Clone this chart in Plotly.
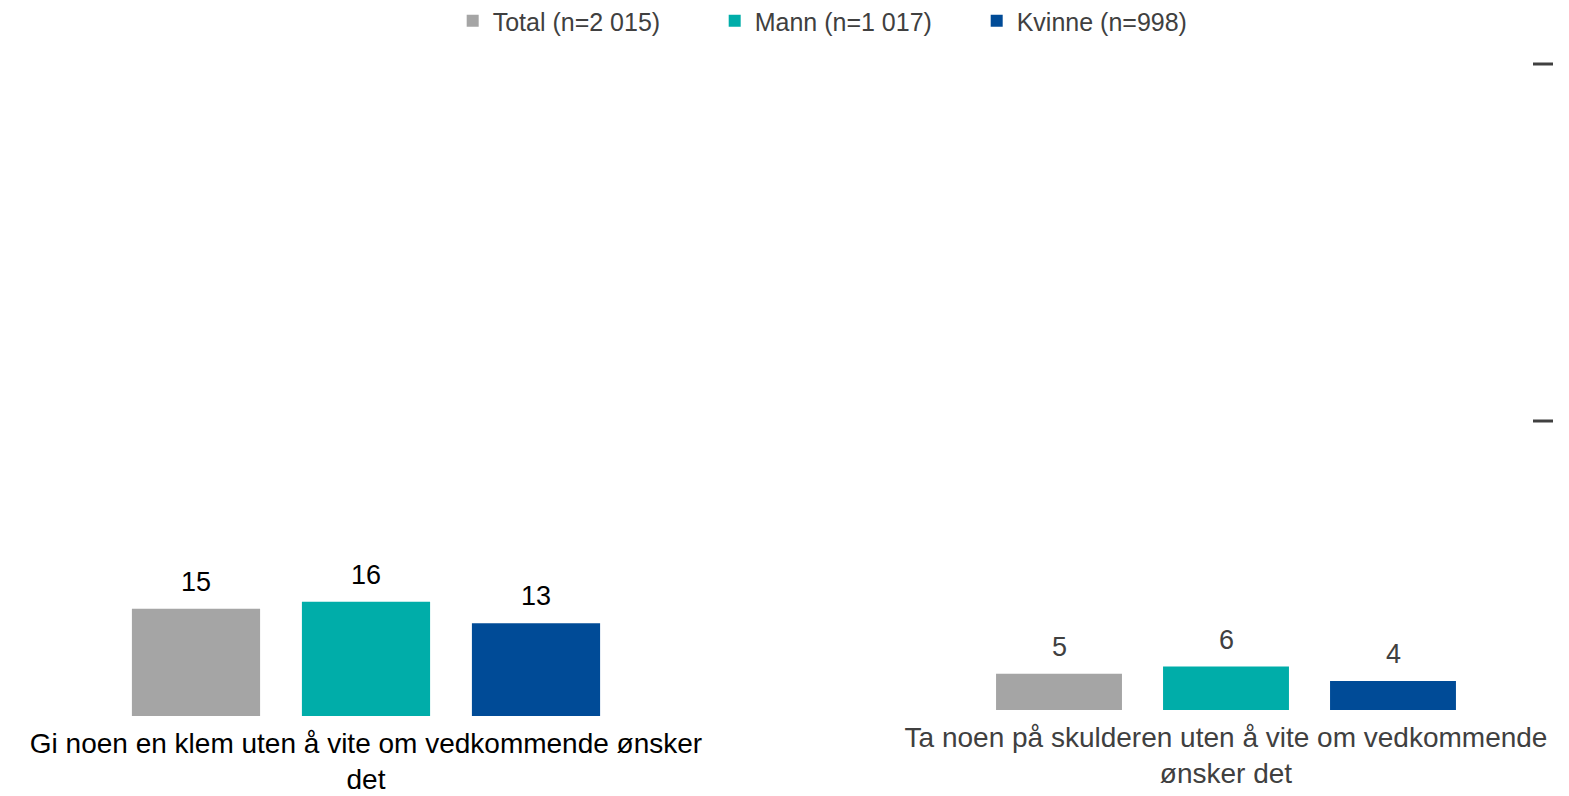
import plotly.graph_objects as go
from plotly.subplots import make_subplots

# data
serier = ["Total (n=2 015)", "Mann (n=1 017)", "Kvinne (n=998)"]
farger = ["#A5A5A5", "#00ADA9", "#004B97"]
kategorier = [
    "Gi noen en klem uten å vite om vedkommende ønsker<br>det",
    "Ta noen på skulderen uten å vite om vedkommende<br>ønsker det",
]
verdier = {
    "Total (n=2 015)": [15, 5],
    "Mann (n=1 017)": [16, 6],
    "Kvinne (n=998)": [13, 4],
}
tekstfarger = ["#000000", "#404040"]

FONT = "Liberation Sans, Arial, sans-serif"
W, H = 1569, 796

fig = make_subplots(rows=1, cols=2)

for i, navn in enumerate(serier):
    for j, kat in enumerate(kategorier):
        fig.add_trace(
            go.Bar(x=[kat], y=[verdier[navn][j]], name=navn,
                   marker_color=farger[i], marker_line_width=0,
                   legendgroup=navn, showlegend=(j == 0),
                   hoverinfo="y"),
            row=1, col=j + 1
        )

# verdietiketter over stolpene
offsets = [-170, 0, 170]
for i, navn in enumerate(serier):
    for j, kat in enumerate(kategorier):
        xr = "x" if j == 0 else "x2"
        yr = "y" if j == 0 else "y2"
        fig.add_annotation(
            x=kat, y=verdier[navn][j], xref=xr, yref=yr,
            text=str(verdier[navn][j]), showarrow=False,
            xshift=offsets[i] * (1 if j == 0 else 167 / 170),
            yanchor="bottom", yshift=10,
            font=dict(size=27, color=tekstfarger[j], family=FONT)
        )

# små streker til høyre
for yp in [64, 421]:
    fig.add_shape(type="line", xref="paper", yref="paper",
                  x0=1533 / W, x1=1553 / W, y0=1 - yp / H, y1=1 - yp / H,
                  line=dict(color="#404040", width=3))

fig.update_layout(
    width=W, height=H, autosize=False,
    margin=dict(l=0, r=0, t=0, b=0, autoexpand=False),
    paper_bgcolor="white", plot_bgcolor="white",
    font=dict(family=FONT),
    barmode="group", bargap=0.3, bargroupgap=0.246,
    legend=dict(orientation="h", x=0.539, xanchor="center",
                y=1 - 21 / H, yanchor="middle",
                entrywidth=217, entrywidthmode="pixels",
                font=dict(size=25, color="#404040"),
                itemsizing="constant"),
)

fig.update_xaxes(showgrid=False, showline=False, zeroline=False, ticks="",
                 ticklabelstandoff=8)
fig.update_yaxes(showgrid=False, showline=False, zeroline=False,
                 showticklabels=False, ticks="")

fig.update_layout(
    xaxis=dict(domain=[0, 737 / W], range=[-366 / 728.6, 371 / 728.6],
               tickfont=dict(size=28, color="#000000", family=FONT)),
    xaxis2=dict(domain=[860 / W, 1.0], range=[-366 / 715.7, 343 / 715.7],
                tickfont=dict(size=28, color="#404040", family=FONT)),
    yaxis=dict(domain=[1 - 716 / H, 1 - 16 / H], range=[0, 98.0]),
    yaxis2=dict(domain=[1 - 710 / H, 1 - 10 / H], range=[0, 96.6]),
)

fig.write_html(
    "out.html",
    config={"responsive": False, "displayModeBar": False},
    post_script=("document.documentElement.style.margin='0';"
                 "document.documentElement.style.overflow='hidden';"
                 "document.body.style.margin='0';"
                 "document.body.style.overflow='hidden';"),
)
